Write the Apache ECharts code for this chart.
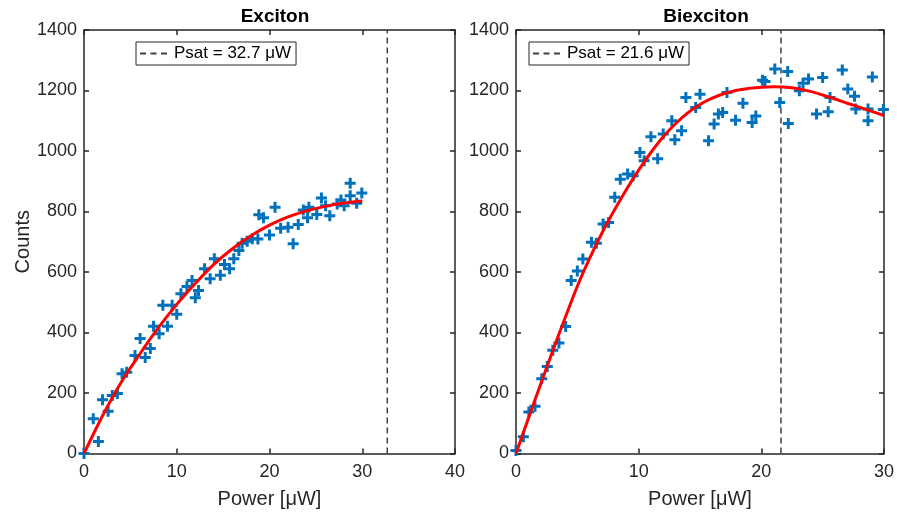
<!DOCTYPE html>
<html>
<head>
<meta charset="utf-8">
<script src="https://cdn.jsdelivr.net/npm/echarts@6/dist/echarts.min.js"></script>
<style>
html,body{margin:0;padding:0;background:#fff;}
#chart{width:897px;height:517px;}
</style>
</head>
<body>
<div id="chart"></div>
<script>
// ---------- Data ----------
const excitonTitle = 'Exciton';
const biexcitonTitle = 'Biexciton';
const xAxisName = 'Power [μW]';
const yAxisName = 'Counts';

const excitonPower = [0,1.0,1.55,2.0,2.6,3.05,3.6,4.1,4.6,5.5,6.05,6.6,7.15,7.5,8.1,8.5,9.0,9.5,10.0,10.45,11.1,11.65,12.0,12.35,13.0,13.6,14.05,14.7,15.15,15.7,16.15,16.7,17.05,17.6,18.15,18.75,18.85,19.35,20.0,20.6,21.2,22.0,22.55,23.1,23.65,24.1,24.25,25.1,25.6,26.05,26.5,27.3,27.7,28.05,28.7,28.7,29.4,29.95];
const excitonCounts = [0,115,40,178,140,192,198,264,269,324,380,317,347,421,396,490,421,490,460,528,552,572,515,539,611,578,644,589,625,611,644,671,695,702,710,709,789,779,722,814,745,748,693,757,805,779,814,790,845,819,786,825,838,819,893,852,827,861];

const excitonFitPower = [0,2,4,6,8,10,12,14,16,18,20,22,24,26,28,30];
const excitonFitCounts = [0,125,235,328,415,493,562,625,677,720,755,782,802,817,828,835];

const biexcitonPower = [0,0.6,1.05,1.55,2.1,2.55,3.0,3.5,4.05,4.5,5.0,5.45,6.15,6.55,7.1,7.55,8.05,8.5,9.1,9.55,10.1,10.45,11.0,11.55,12.0,12.7,12.95,13.5,13.85,14.65,15.0,15.7,16.15,16.5,16.85,17.2,17.9,18.5,19.25,19.55,20.1,20.3,21.1,21.5,22.15,22.2,23.1,23.4,23.85,24.5,25.0,25.45,25.6,26.6,27.05,27.6,27.7,28.7,28.7,29.05,29.95];
const biexcitonCounts = [10,55,137,156,247,288,341,365,420,572,603,643,698,695,759,764,847,907,924,918,995,968,1047,974,1056,1100,1037,1067,1177,1144,1188,1034,1089,1122,1127,1193,1102,1158,1094,1116,1234,1230,1271,1160,1263,1091,1199,1224,1238,1122,1243,1130,1177,1268,1205,1181,1139,1139,1100,1245,1137];

const biexcitonFitPower = [0,1,2,3,4,5,6,7,8,9,10,11,12,13,14,15,16,17,18,19,20,21,22,23,24,25,26,27,28,29,30];
const biexcitonFitCounts = [0,115,228,340,448,553,645,728,803,873,937,995,1047,1090,1126,1154,1175,1190,1201,1207,1211,1212,1211,1206,1197,1185,1172,1158,1145,1131,1117];

const psatExciton = 32.7;
const psatBiexciton = 21.6;
const psatExcitonLabel = 'Psat = 32.7 μW';
const psatBiexcitonLabel = 'Psat = 21.6 μW';

const yTicks = [0,200,400,600,800,1000,1200,1400];
const excitonXTicks = [0,10,20,30,40];
const biexcitonXTicks = [0,10,20,30];

// ---------- Helpers ----------
const FONT = "'Liberation Sans', Arial, Helvetica, sans-serif";
const AX = '#262626';
const DASH = '#404040';
const BLUE = '#0072BD';
const RED = '#FF0000';
const PLUS = 'path://M4,0H7V4H11V7H7V11H4V7H0V4H4Z';
const DASH_ICON = 'path://M0,0H6V2H0Z M10.5,0H16.5V2H10.5Z M21,0H27V2H21Z';

function zip(a, b) { return a.map((v, i) => [v, b[i]]); }
function plain(v) { return String(v); }

function xAx(grid, ticks, pos, showLabel) {
  return {
    type: 'value', gridIndex: grid, position: pos,
    min: ticks[0], max: ticks[ticks.length - 1], interval: ticks[1] - ticks[0],
    name: showLabel ? xAxisName : '', nameLocation: 'middle', nameGap: 36,
    nameTextStyle: { fontFamily: FONT, fontSize: 20, color: AX },
    axisLine: { show: true, onZero: false, lineStyle: { color: AX, width: 1.5 } },
    axisTick: { show: true, inside: true, length: 5, lineStyle: { color: AX, width: 1.5 } },
    axisLabel: { show: showLabel, fontFamily: FONT, fontSize: 18, color: AX, margin: 10, formatter: plain },
    splitLine: { show: false }
  };
}
function yAx(grid, pos, showLabel) {
  return {
    type: 'value', gridIndex: grid, position: pos,
    min: yTicks[0], max: yTicks[yTicks.length - 1], interval: yTicks[1] - yTicks[0],
    name: (showLabel && grid === 0) ? yAxisName : '', nameLocation: 'middle', nameGap: 50,
    nameTextStyle: { fontFamily: FONT, fontSize: 20, color: AX },
    axisLine: { show: true, onZero: false, lineStyle: { color: AX, width: 1.5 } },
    axisTick: { show: true, inside: true, length: 5, lineStyle: { color: AX, width: 1.5 } },
    axisLabel: { show: showLabel, fontFamily: FONT, fontSize: 18, color: AX, margin: 7, formatter: plain },
    splitLine: { show: false }
  };
}
function legendFor(name, left) {
  return {
    data: [{ name: name, icon: DASH_ICON, itemStyle: { color: DASH } }],
    left: left, top: 42, orient: 'horizontal',
    padding: [3, 5, 3, 4], itemWidth: 27, itemHeight: 2, itemGap: 4,
    borderColor: AX, borderWidth: 1, backgroundColor: '#fff', borderRadius: 0,
    textStyle: { fontFamily: FONT, fontSize: 17, color: '#000', padding: [0, 0, 0, 2] },
    selectedMode: false
  };
}

const option = {
  backgroundColor: '#fff',
  animation: false,
  title: [
    { text: excitonTitle, left: 270, top: 2, textAlign: 'center',
      textStyle: { fontFamily: FONT, fontSize: 19, fontWeight: 'bold', color: '#000' } },
    { text: biexcitonTitle, left: 701, top: 2, textAlign: 'center',
      textStyle: { fontFamily: FONT, fontSize: 19, fontWeight: 'bold', color: '#000' } }
  ],
  legend: [legendFor(psatExcitonLabel, 136), legendFor(psatBiexcitonLabel, 529)],
  grid: [
    { left: 84, top: 30, width: 371, height: 423.5, containLabel: false },
    { left: 516, top: 30, width: 370, height: 423.5, containLabel: false }
  ],
  xAxis: [
    xAx(0, excitonXTicks, 'bottom', true),
    xAx(1, biexcitonXTicks, 'bottom', true),
    xAx(0, excitonXTicks, 'top', false),
    xAx(1, biexcitonXTicks, 'top', false)
  ],
  yAxis: [
    yAx(0, 'left', true),
    yAx(1, 'left', true),
    yAx(0, 'right', false),
    yAx(1, 'right', false)
  ],
  series: [
    { name: psatExcitonLabel, type: 'line', xAxisIndex: 0, yAxisIndex: 0,
      data: [[psatExciton, yTicks[0]], [psatExciton, yTicks[yTicks.length - 1]]],
      symbol: 'none', lineStyle: { color: DASH, width: 1.5, type: [6, 4] }, itemStyle: { color: DASH }, z: 2 },
    { name: 'ex-data', type: 'scatter', xAxisIndex: 0, yAxisIndex: 0,
      data: zip(excitonPower, excitonCounts), symbol: PLUS, symbolSize: 11,
      itemStyle: { color: BLUE, opacity: 1 }, z: 3 },
    { name: 'ex-fit', type: 'line', xAxisIndex: 0, yAxisIndex: 0,
      data: zip(excitonFitPower, excitonFitCounts), smooth: 0.3, symbol: 'none',
      lineStyle: { color: RED, width: 3 }, z: 4 },

    { name: psatBiexcitonLabel, type: 'line', xAxisIndex: 1, yAxisIndex: 1,
      data: [[psatBiexciton, yTicks[0]], [psatBiexciton, yTicks[yTicks.length - 1]]],
      symbol: 'none', lineStyle: { color: DASH, width: 1.5, type: [6, 4] }, itemStyle: { color: DASH }, z: 2 },
    { name: 'bx-data', type: 'scatter', xAxisIndex: 1, yAxisIndex: 1,
      data: zip(biexcitonPower, biexcitonCounts), symbol: PLUS, symbolSize: 11,
      itemStyle: { color: BLUE, opacity: 1 }, z: 3 },
    { name: 'bx-fit', type: 'line', xAxisIndex: 1, yAxisIndex: 1,
      data: zip(biexcitonFitPower, biexcitonFitCounts), smooth: 0.3, symbol: 'none',
      lineStyle: { color: RED, width: 3 }, z: 4 }
  ]
};

const chart = echarts.init(document.getElementById('chart'), null, { renderer: 'canvas' });
chart.setOption(option);
</script>
</body>
</html>
